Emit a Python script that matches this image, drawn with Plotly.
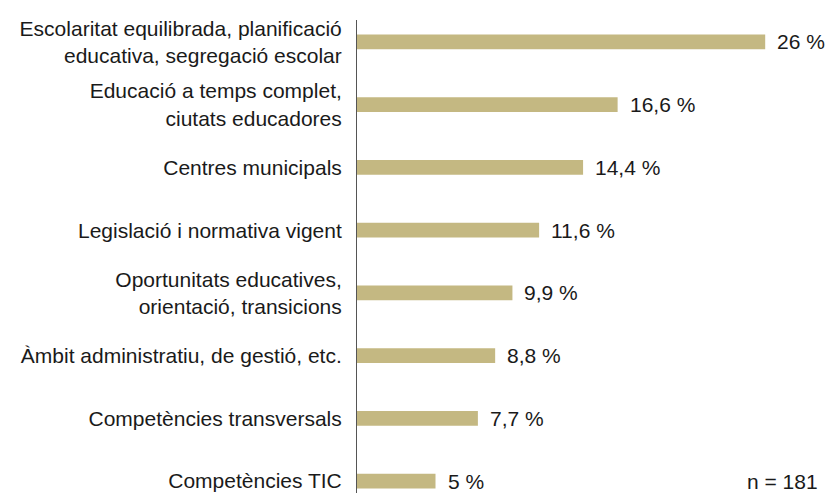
import plotly.graph_objects as go

categories = [
    "Escolaritat equilibrada, planificació<br>educativa, segregació escolar",
    "Educació a temps complet,<br>ciutats educadores",
    "Centres municipals",
    "Legislació i normativa vigent",
    "Oportunitats educatives,<br>orientació, transicions",
    "Àmbit administratiu, de gestió, etc.",
    "Competències transversals",
    "Competències TIC",
]
values = [26, 16.6, 14.4, 11.6, 9.9, 8.8, 7.7, 5]
value_labels = ["26 %", "16,6 %", "14,4 %", "11,6 %", "9,9 %", "8,8 %", "7,7 %", "5 %"]
note = "n = 181"

pos = list(range(len(categories)))
FONT = "Liberation Sans, Arial, sans-serif"
FS = 21

fig = go.Figure(go.Bar(
    x=values, y=pos, orientation="h",
    marker=dict(color="#c4b882", line=dict(width=0)),
    width=0.235,
))

for p, v, t in zip(pos, values, value_labels):
    fig.add_annotation(x=v, y=p, text=t, xanchor="left", yanchor="middle",
                       xshift=10, showarrow=False,
                       font=dict(family=FONT, size=FS, color="#1a1a1a"))

fig.add_annotation(x=1, xref="paper", y=pos[-1], text=note, xanchor="right",
                   yanchor="middle", xshift=-8, showarrow=False,
                   font=dict(family=FONT, size=FS, color="#1a1a1a"))

fig.update_layout(
    width=828, height=493,
    margin=dict(l=357, r=0, t=20, b=0),
    plot_bgcolor="white", paper_bgcolor="white",
    showlegend=False,
    xaxis=dict(range=[0, 30], visible=False, fixedrange=True),
    yaxis=dict(
        range=[7.19, -0.35], tickmode="array", tickvals=pos, ticktext=categories,
        showline=True, linecolor="#555555", linewidth=1, showgrid=False,
        zeroline=False, ticks="", ticklabelstandoff=10, automargin=False,
        fixedrange=True,
        tickfont=dict(family=FONT, size=FS, color="#1a1a1a"),
    ),
)

fig.write_html("out.html", config={"displayModeBar": False},
               post_script="document.body.style.margin='0';document.body.style.overflow='hidden';")
